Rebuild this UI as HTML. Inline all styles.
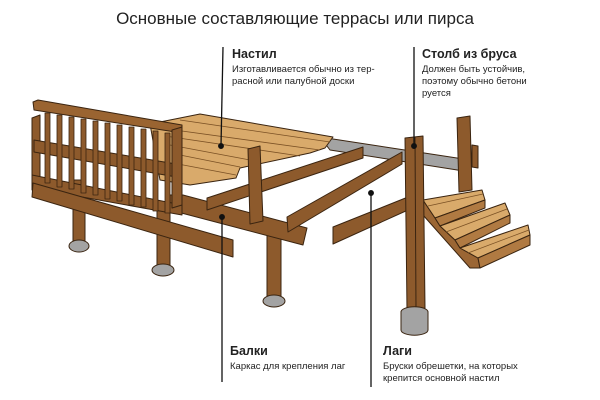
<!DOCTYPE html>
<html><head><meta charset="utf-8"><style>
html,body{margin:0;padding:0;background:#fff;width:600px;height:400px;overflow:hidden}
svg{display:block}
text{font-family:"Liberation Sans",sans-serif;fill:#222}
</style></head><body>
<svg width="600" height="400" viewBox="0 0 600 400" xmlns="http://www.w3.org/2000/svg">
<text x="295" y="24" text-anchor="middle" font-size="17" fill="#333">Основные составляющие террасы или пирса</text>

<g stroke="#3a2410" stroke-width="1" stroke-linejoin="round">
<!-- gray ledger -->
<polygon points="320,137 470,160 470,172 330,150" fill="#a3a3a3"/>
<!-- back post -->
<polygon points="457,118 470,116 472,190 459,192" fill="#8d5a2c"/>
<polygon points="472,145 478,146 478,168 472,167" fill="#8d5a2c"/>
<!-- stairs -->
<polygon points="423,200 435,218 440,226 455,240 460,248 478,258 480,268 470,268 423,215" fill="#9b6634"/>
<polygon points="423,200 482,190 485,200 435,218" fill="#d9aa6b"/>
<polygon points="435,218 485,200 485,208 440,226" fill="#b07a42"/>
<polygon points="440,226 505,203 510,215 455,240" fill="#d9aa6b"/>
<polygon points="455,240 510,215 510,223 460,248" fill="#b07a42"/>
<polygon points="460,248 528,225 530,235 478,258" fill="#d9aa6b"/>
<polygon points="478,258 530,235 530,245 480,268" fill="#b07a42"/>
<g stroke="#7a5024" stroke-width="0.7">
<line x1="428" y1="206" x2="483" y2="194"/><line x1="446" y1="232" x2="507" y2="209"/><line x1="468" y1="253" x2="529" y2="230"/>
</g>

<!-- posts under deck -->
<rect x="73" y="180" width="12" height="62" fill="#8d5a2c"/>
<ellipse cx="79" cy="246" rx="10" ry="6" fill="#a3a3a3"/>
<rect x="157" y="205" width="13" height="62" fill="#8d5a2c"/>
<ellipse cx="163" cy="270" rx="11" ry="6" fill="#a3a3a3"/>
<rect x="267" y="235" width="14" height="62" fill="#8d5a2c"/>
<ellipse cx="274" cy="301" rx="11" ry="6" fill="#a3a3a3"/>

<!-- decking -->
<polygon points="150,124 200,114 333,137 325,148 310,153 240,168 236,178 190,185 160,180" fill="#d9aa6b"/>
<g stroke="#7a5024" stroke-width="0.8">
<line x1="160" y1="128" x2="320" y2="150"/><line x1="165" y1="136" x2="300" y2="156"/>
<line x1="170" y1="145" x2="250" y2="160"/><line x1="175" y1="154" x2="240" y2="167"/>
<line x1="178" y1="164" x2="236" y2="175"/><line x1="180" y1="120" x2="330" y2="142"/>
</g>

<!-- rim beam (балки) -->
<polygon points="170,195 183,195 307,228 303,245 170,210" fill="#8d5a2c"/>
<!-- joists -->
<polygon points="207,198 363,147 363,158 207,210" fill="#8d5a2c"/>
<polygon points="287,217 402,152 402,164 288,232" fill="#8d5a2c"/>
<polygon points="333,227 408,197 408,210 333,244" fill="#8d5a2c"/>
<!-- front-left post -->
<polygon points="248,149 260,146 263,221 250,224" fill="#8d5a2c"/>

<!-- railing -->
<g fill="#8d5a2c">
<polygon points="32,118 40,115 40,190 32,190"/>
<polygon points="34,140 182,165 182,178 34,152"/>
<polygon points="32,175 182,205 182,215 32,188"/>
</g>
<g fill="#8d5a2c" stroke-width="0.8">
<rect x="45" y="113" width="5" height="70"/><rect x="57" y="115" width="5" height="72"/>
<rect x="69" y="117" width="5" height="72"/><rect x="81" y="119" width="5" height="74"/>
<rect x="93" y="121" width="5" height="74"/><rect x="105" y="123" width="5" height="76"/>
<rect x="117" y="125" width="5" height="76"/><rect x="129" y="127" width="5" height="78"/>
<rect x="141" y="129" width="5" height="78"/><rect x="153" y="131" width="5" height="80"/>
<rect x="165" y="133" width="5" height="80"/>
</g>
<polygon points="33,102 38,100 182,125 182,133 34,110" fill="#9a6431"/>
<polygon points="172,130 182,127 182,205 172,208" fill="#8d5a2c"/>
<!-- separate lower beam -->
<polygon points="33,183 233,240 233,257 32,197" fill="#8d5a2c"/>

<!-- big front post -->
<polygon points="405,138 423,136 425,308 407,310" fill="#8d5a2c"/>
<line x1="415" y1="137" x2="416" y2="309"/>
<path d="M401,312 a13,5 0 0 1 27,0 v18 a13,5 0 0 1 -27,0 z" fill="#a3a3a3"/>
</g>

<!-- leader lines -->
<g stroke="#111" stroke-width="1.3" fill="#111">
<line x1="223" y1="47" x2="221" y2="146"/><circle cx="221" cy="146" r="2.3"/>
<line x1="414" y1="47" x2="414" y2="146"/><circle cx="414" cy="146" r="2.3"/>
<line x1="222" y1="217" x2="222" y2="382"/><circle cx="222" cy="217" r="2.3"/>
<line x1="371" y1="193" x2="371" y2="387"/><circle cx="371" cy="193" r="2.3"/>
</g>

<text x="232" y="58" font-size="12.5" font-weight="bold">Настил</text>
<text x="232" y="72" font-size="9.5">Изготавливается обычно из тер-</text>
<text x="232" y="84" font-size="9.5">расной или палубной доски</text>
<text x="422" y="58" font-size="12.5" font-weight="bold">Столб из бруса</text>
<text x="422" y="72" font-size="9.5">Должен быть устойчив,</text>
<text x="422" y="84" font-size="9.5">поэтому обычно бетони</text>
<text x="422" y="96" font-size="9.5">руется</text>
<text x="230" y="355" font-size="12.5" font-weight="bold">Балки</text>
<text x="230" y="369" font-size="9.5">Каркас для крепления лаг</text>
<text x="383" y="355" font-size="12.5" font-weight="bold">Лаги</text>
<text x="383" y="369" font-size="9.5">Бруски обрешетки, на которых</text>
<text x="383" y="381" font-size="9.5">крепится основной настил</text>
</svg>
</body></html>
